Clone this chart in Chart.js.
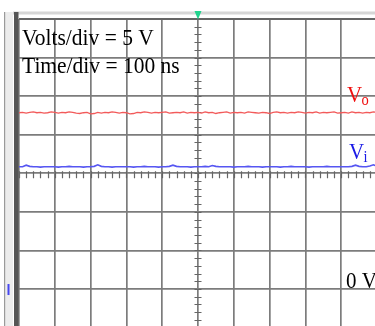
<!DOCTYPE html>
<html>
<head>
<meta charset="utf-8">
<script src="https://cdn.jsdelivr.net/npm/chart.js@4.4.0/dist/chart.umd.min.js"></script>
<style>
  html, body { margin: 0; padding: 0; background: #fff; overflow: hidden; }
  #wrap { width: 378px; height: 330px; position: relative; }
</style>
</head>
<body>
<div id="wrap"><canvas id="scope"></canvas></div>
<script>
// time axis (ns), 100 ns/div, 10 divisions
const timeNs = [
  0,10,20,30,40,50,60,70,80,90,
  100,110,120,130,140,150,160,170,180,190,
  200,210,220,230,240,250,260,270,280,290,
  300,310,320,330,340,350,360,370,380,390,
  400,410,420,430,440,450,460,470,480,490,
  500,510,520,530,540,550,560,570,580,590,
  600,610,620,630,640,650,660,670,680,690,
  700,710,720,730,740,750,760,770,780,790,
  800,810,820,830,840,850,860,870,880,890,
  900,910,920,930,940,950,960,970,980,990,
  1000
];

// output voltage Vo (V)
const voValues = [
  22.85,22.9,22.8,22.9,22.95,22.85,22.9,22.8,22.85,22.95,
  22.9,22.8,22.9,22.85,22.95,22.9,22.8,22.75,22.85,22.9,
  22.7,22.75,22.9,22.8,22.9,22.85,22.95,22.9,22.8,22.9,
  22.85,22.7,22.75,22.9,22.85,22.95,22.9,22.8,22.9,22.85,
  22.9,22.95,22.8,22.85,22.9,22.85,22.95,22.8,22.9,22.85,
  22.9,22.8,22.95,22.85,22.9,22.75,22.85,22.9,22.95,22.8,
  22.9,22.85,22.9,22.8,22.95,22.9,22.85,22.8,22.9,22.85,
  22.75,22.9,22.95,22.85,22.9,22.8,22.9,22.85,22.95,22.9,
  22.8,22.9,22.85,22.95,22.8,22.9,22.85,22.9,22.95,22.8,
  22.85,22.9,22.8,22.95,22.85,22.9,22.8,22.9,22.85,22.95,
  22.9
];

// input voltage Vi (V)
const viValues = [
  15.85,15.85,16.05,15.9,15.85,15.85,15.8,15.85,15.85,15.85,
  15.85,15.8,15.85,15.85,15.9,15.85,15.85,15.85,15.8,15.85,
  15.85,15.9,16.1,15.9,15.85,15.85,15.8,15.85,15.85,15.85,
  15.85,15.85,15.8,15.85,15.85,15.9,15.85,15.85,15.85,15.8,
  15.85,15.85,15.9,16.05,15.9,15.85,15.85,15.85,15.8,15.85,
  15.85,15.85,15.9,15.85,16.0,15.9,15.85,15.85,15.85,15.85,
  15.8,15.85,15.85,15.85,15.9,15.85,15.85,15.85,15.8,15.85,
  15.85,15.85,15.85,15.8,15.85,15.85,15.9,15.85,15.85,15.85,
  15.85,15.8,15.85,15.85,15.85,15.85,15.9,15.85,15.85,15.85,
  15.85,15.85,15.85,15.9,16.05,15.9,15.85,15.85,15.95,16.1,
  15.9
];

// 5 V/div, 8 divisions, 0 V one division above the bottom
const yMin = -5, yMax = 35, yStep = 5;
const xMin = 0, xMax = 1000, xStep = 100;

const toPoints = (vals) => timeNs.map((t, i) => ({ x: t, y: vals[i] }));

// scope decorations: frame, centre axis ticks, labels
const scopeDecor = {
  id: "scopeDecor",
  beforeDraw(chart) {
    const ctx = chart.ctx;
    const h = chart.height, w = chart.width;
    ctx.save();
    ctx.fillStyle = "#fff";
    ctx.fillRect(0, 0, w, h);
    // left strip
    ctx.fillStyle = "#9a9a9a";
    ctx.fillRect(4, 12, 1.5, h);
    ctx.fillStyle = "#ececec";
    ctx.fillRect(5.5, 12, 7.5, h);
    // top band
    ctx.fillStyle = "#d6d6d6";
    ctx.fillRect(13, 11.5, w, 3);
    ctx.restore();
  },
  beforeDatasetsDraw(chart) {
    const ctx = chart.ctx;
    const xs = chart.scales.x, ys = chart.scales.y;
    const area = chart.chartArea;
    const cx = xs.getPixelForValue((xMin + xMax) / 2);
    const cy = ys.getPixelForValue(15);
    ctx.save();
    ctx.strokeStyle = "#666";
    ctx.lineWidth = 1.2;
    ctx.beginPath();
    for (let v = yMin; v <= yMax; v += 1) {
      const py = Math.round(ys.getPixelForValue(v)) + 0.5;
      ctx.moveTo(cx - 3.5, py);
      ctx.lineTo(cx + 3.5, py);
    }
    for (let t = xMin; t <= xMax; t += 20) {
      const px = Math.round(xs.getPixelForValue(t)) + 0.5;
      ctx.moveTo(px, cy - 2);
      ctx.lineTo(px, cy + 5);
    }
    ctx.stroke();
    // thick left frame
    ctx.fillStyle = "#555";
    ctx.fillRect(14, 12, 4.5, chart.height);
    // top frame line
    ctx.fillStyle = "#666";
    ctx.fillRect(area.left, area.top - 1, area.right - area.left, 2);
    // trigger marker
    ctx.fillStyle = "#22d38e";
    ctx.beginPath();
    ctx.moveTo(cx - 3.5, 11);
    ctx.lineTo(cx + 3.5, 11);
    ctx.lineTo(cx, 19.5);
    ctx.closePath();
    ctx.fill();
    // channel ground marker
    ctx.fillStyle = "#4646f0";
    const gy = ys.getPixelForValue(0);
    ctx.fillRect(7.5, gy - 5, 2, 11);
    ctx.restore();
  },
  afterDraw(chart) {
    const ctx = chart.ctx;
    const ys = chart.scales.y;
    const txt = (s, x, y, size, color) => {
      ctx.save();
      ctx.translate(x, y);
      ctx.scale(1, 1.12);
      ctx.font = size + "px 'Liberation Serif', 'Times New Roman', serif";
      ctx.fillStyle = color;
      ctx.fillText(s, 0, 0);
      ctx.restore();
    };
    txt("Volts/div = 5 V", 22, 45, 21.5, "#000");
    txt("Time/div = 100 ns", 22, 73, 21.5, "#000");
    txt("V", 347, 102, 21, "#f01010");
    txt("o", 361.5, 105, 14.5, "#f01010");
    txt("V", 349, 159, 21, "#1a1ae6");
    txt("i", 363.5, 162, 14.5, "#1a1ae6");
    txt("0 V", 346, ys.getPixelForValue(0) - 1.5, 21, "#000");
  }
};

const gridOpts = { color: "#7c7c7c", lineWidth: 1.7, drawTicks: false };

new Chart(document.getElementById("scope"), {
  type: "line",
  data: {
    datasets: [
      { label: "Vo", data: toPoints(voValues), borderColor: "#f25a5a", borderWidth: 1.3 },
      { label: "Vi", data: toPoints(viValues), borderColor: "#5656f2", borderWidth: 1.6 }
    ]
  },
  options: {
    responsive: true,
    maintainAspectRatio: false,
    animation: false,
    devicePixelRatio: 1,
    layout: { padding: { left: 19, top: 19, right: 1, bottom: 2.4 } },
    elements: { point: { radius: 0 }, line: { tension: 0 } },
    plugins: { legend: { display: false }, tooltip: { enabled: false } },
    scales: {
      x: {
        type: "linear", min: xMin, max: xMax,
        ticks: { display: false, stepSize: xStep },
        grid: gridOpts, border: { display: false }
      },
      y: {
        min: yMin, max: yMax,
        ticks: { display: false, stepSize: yStep },
        grid: gridOpts, border: { display: false }
      }
    }
  },
  plugins: [scopeDecor]
});
</script>
</body>
</html>
